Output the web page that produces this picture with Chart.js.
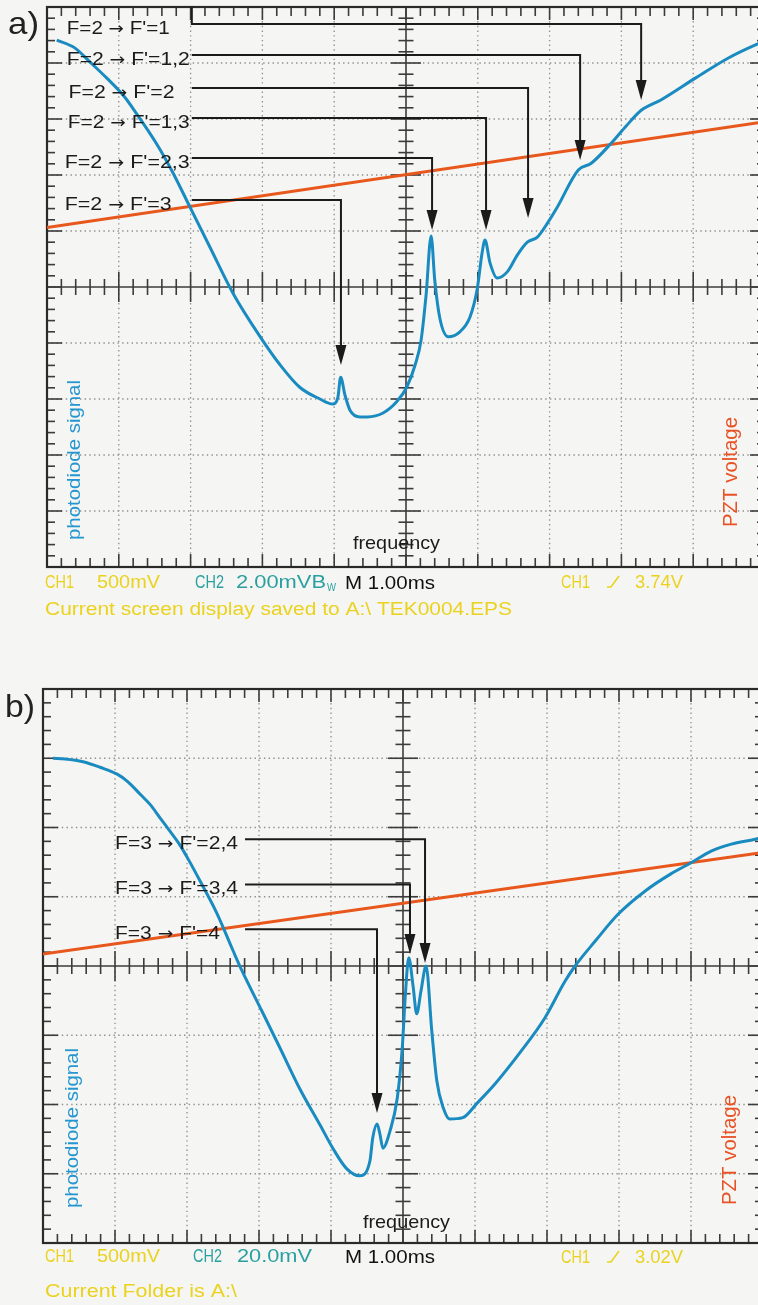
<!DOCTYPE html>
<html>
<head>
<meta charset="utf-8">
<script src="https://cdn.jsdelivr.net/npm/chart.js@4.4.1/dist/chart.umd.min.js"></script>
<style>
  html, body { margin: 0; padding: 0; width: 758px; height: 1305px; overflow: hidden; background: #f5f6f4; }
  .panel { position: absolute; left: 0; }
  #panelA { top: 0; }
  #panelB { top: 630px; }
</style>
</head>
<body>
<div class="panel" id="panelA"><canvas id="scopeA" width="780" height="630"></canvas></div>
<div class="panel" id="panelB"><canvas id="scopeB" width="780" height="675"></canvas></div>
<script>
// ---- Trace (a): F=2 ground state. Horizontal position in divisions (0..10),
// vertical level in divisions from the screen centre.
const sweepA = [0.136, 0.387, 0.596, 0.833, 1.07, 1.25, 1.53, 1.75, 1.99, 2.27, 2.59, 2.97, 3.24, 3.52,
  3.80, 3.98, 4.05, 4.09, 4.15, 4.22, 4.36, 4.46, 4.68, 4.87, 5.01, 5.13, 5.21, 5.28, 5.35, 5.40, 5.47,
  5.59, 5.75, 5.89, 5.99, 6.06, 6.10, 6.17, 6.27, 6.41, 6.55, 6.69, 6.83, 6.97, 7.10, 7.40, 7.58, 7.86,
  8.07, 8.28, 8.55, 9.03, 9.49, 9.86, 10.0];
const photodiodeA = [4.41, 4.27, 4.02, 3.73, 3.41, 3.09, 2.55, 2.05, 1.43, 0.71, -0.11, -0.89, -1.38, -1.79,
  -2.00, -2.09, -1.98, -1.61, -1.93, -2.20, -2.32, -2.32, -2.25, -2.05, -1.79, -1.38, -0.95, -0.14, 0.91, 0.13, -0.55,
  -0.89, -0.80, -0.54, -0.05, 0.61, 0.84, 0.43, 0.16, 0.27, 0.57, 0.80, 0.89, 1.14, 1.41, 2.09, 2.21, 2.57,
  2.88, 3.16, 3.34, 3.73, 4.09, 4.32, 4.39];
const rampSweepA = [0, 10];
const pztA = [1.06, 2.95];
const transitionsA = ["F=2 \u2192 F'=1", "F=2 \u2192 F'=1,2", "F=2 \u2192 F'=2", "F=2 \u2192 F'=1,3", "F=2 \u2192 F'=2,3", "F=2 \u2192 F'=3"];

// ---- Trace (b): F=3 ground state.
const sweepB = [0.139, 0.306, 0.556, 0.792, 1.03, 1.18, 1.35, 1.49, 1.625, 1.76, 1.90, 2.04, 2.18, 2.42, 2.64,
  2.76, 3.04, 3.29, 3.57, 3.85, 4.03, 4.22, 4.40, 4.54, 4.58, 4.64, 4.68, 4.72, 4.82, 4.92, 4.99, 5.03, 5.08,
  5.14, 5.19, 5.25, 5.32, 5.40, 5.47, 5.56, 5.65, 5.83, 6.03, 6.28, 6.64, 6.97, 7.25, 7.39, 7.67, 7.99, 8.36,
  8.72, 9.00, 9.28, 9.56, 9.89, 10.0];
const photodiodeB = [3.00, 2.99, 2.95, 2.87, 2.77, 2.66, 2.48, 2.33, 2.14, 1.95, 1.75, 1.50, 1.23, 0.75, 0.22,
  -0.06, -0.65, -1.18, -1.78, -2.30, -2.64, -2.93, -3.03, -2.82, -2.48, -2.28, -2.43, -2.63, -2.38, -1.91, -1.18, -0.46, 0.12,
  -0.29, -0.69, -0.36, 0.0, -0.94, -1.66, -2.05, -2.21, -2.19, -1.98, -1.70, -1.23, -0.75, -0.22, 0.0, 0.36, 0.75, 1.08,
  1.33, 1.49, 1.66, 1.76, 1.83, 1.86];
const rampSweepB = [0, 10];
const pztB = [0.173, 1.64];
const transitionsB = ["F=3 \u2192 F'=2,4", "F=3 \u2192 F'=3,4", "F=3 \u2192 F'=4"];

const pts = (xs, ys) => xs.map((x, i) => ({ x: x, y: ys[i] }));

// Arrow callouts: label start, row of the leader, target column and arrow tip, in axis units.
const calloutsA = [
  { lx: 0.275, w: 103, row: 4.696, start: 2.017, tx: 8.275, tip: 3.339, stub: true },
  { lx: 0.275, w: 123, row: 4.143, start: 2.017, tx: 7.425, tip: 2.268 },
  { lx: 0.300, w: 106, row: 3.554, start: 2.017, tx: 6.700, tip: 1.232 },
  { lx: 0.289, w: 122, row: 3.018, start: 2.017, tx: 6.115, tip: 1.018 },
  { lx: 0.247, w: 125, row: 2.304, start: 2.017, tx: 5.363, tip: 1.018 },
  { lx: 0.247, w: 107, row: 1.554, start: 2.017, tx: 4.094, tip: -1.393 }
].map((c, i) => Object.assign({ text: transitionsA[i] }, c));
const calloutsB = [
  { lx: 1.0, w: 123, row: 1.830, start: 2.806, tx: 5.306, tip: 0.043 },
  { lx: 1.0, w: 123, row: 1.177, start: 2.806, tx: 5.097, tip: 0.173 },
  { lx: 1.0, w: 105, row: 0.530, start: 2.806, tx: 4.639, tip: -2.123 }
].map((c, i) => Object.assign({ text: transitionsB[i] }, c));

const YELLOW = '#ead21e', TEAL = '#2a9fa0', INK = '#1b1b1b';
const SANS = '"Liberation Sans", Arial, Helvetica, sans-serif';
const ARROWFONT = '"DejaVu Sans", sans-serif';

// Draws a string squeezed/stretched to a given width
function fitText(ctx, text, x, y, w, size, color, rot) {
  ctx.save();
  ctx.font = size + 'px ' + SANS;
  ctx.fillStyle = color;
  const m = ctx.measureText(text).width;
  ctx.translate(x, y);
  if (rot) ctx.rotate(rot);
  ctx.scale(w / m, 1);
  ctx.fillText(text, 0, 0);
  ctx.restore();
}

// Transition label: the arrow is set in DejaVu Sans so it sits at mid-height
function transitionText(ctx, text, x, y, w, size, color) {
  const parts = text.split('\u2192');
  const segs = [
    { s: parts[0], f: size + 'px ' + SANS },
    { s: '\u2192', f: (size - 2) + 'px ' + ARROWFONT },
    { s: parts[1], f: size + 'px ' + SANS }
  ];
  ctx.save();
  ctx.fillStyle = color;
  let total = 0;
  segs.forEach(g => { ctx.font = g.f; g.w = ctx.measureText(g.s).width; total += g.w; });
  ctx.translate(x, y);
  ctx.scale(w / total, 1);
  let cx = 0;
  segs.forEach(g => { ctx.font = g.f; ctx.fillText(g.s, cx, 0); cx += g.w; });
  ctx.restore();
}

function triggerIcon(ctx, x, y, color) {
  ctx.save();
  ctx.strokeStyle = color; ctx.lineWidth = 1.6;
  ctx.beginPath();
  ctx.moveTo(x, y); ctx.lineTo(x + 4, y); ctx.lineTo(x + 12, y - 11);
  ctx.stroke();
  ctx.restore();
}

// Oscilloscope graticule: dotted grid, framed border with ticks, centre cross
const graticule = {
  id: 'graticule',
  beforeDraw(chart) {
    const ctx = chart.ctx;
    ctx.save();
    ctx.fillStyle = '#f5f6f4';
    ctx.fillRect(0, 0, chart.width, chart.height);
    ctx.restore();
  },
  beforeDatasetsDraw(chart) {
    const { ctx, chartArea: a, scales: { x, y } } = chart;
    const seg = (x1, y1, x2, y2) => { ctx.beginPath(); ctx.moveTo(x1, y1); ctx.lineTo(x2, y2); ctx.stroke(); };
    ctx.save();
    ctx.strokeStyle = '#8e8e8e'; ctx.lineWidth = 1.3; ctx.setLineDash([1.4, 3.3]);
    for (let d = 1; d < 10; d++) {
      if (d === 5) continue;
      const px = x.getPixelForValue(d);
      seg(px, a.top, px, a.bottom);
    }
    for (let v = y.min + 1; v < y.max; v++) {
      if (v === 0) continue;
      const py = y.getPixelForValue(v);
      seg(a.left, py, a.right, py);
    }
    ctx.setLineDash([]);
    ctx.strokeStyle = '#3b3b3b'; ctx.lineWidth = 1.6;
    const cx = x.getPixelForValue(5), cy = y.getPixelForValue(0);
    seg(cx, a.top, cx, a.bottom);
    seg(a.left, cy, a.right, cy);
    for (let i = 0; i <= 50; i++) {
      const px = x.getPixelForValue(i / 5), major = i % 5 === 0;
      const edge = major ? 13 : 9, mid = major ? 15 : 8;
      seg(px, a.top, px, a.top + edge);
      seg(px, a.bottom, px, a.bottom - edge);
      seg(px, cy - mid, px, cy + mid);
    }
    const nRows = (y.max - y.min) * 5;
    for (let i = 0; i <= nRows; i++) {
      const py = y.getPixelForValue(y.min + i / 5), major = i % 5 === 0;
      const edge = major ? 15 : 8, mid = major ? 15 : 7.5;
      seg(a.left, py, a.left + edge, py);
      seg(a.right, py, a.right - edge, py);
      seg(cx - mid, py, cx + mid, py);
    }
    ctx.strokeStyle = '#2a2a2a'; ctx.lineWidth = 2.2;
    ctx.strokeRect(a.left, a.top, a.right - a.left, a.bottom - a.top);
    ctx.restore();
  }
};

// Labelled leader lines with arrowheads pointing at the resonances
const callouts = {
  id: 'callouts',
  afterDatasetsDraw(chart, args, opts) {
    const { ctx, scales: { x, y } } = chart;
    ctx.save();
    (opts.items || []).forEach(c => {
      const rowY = y.getPixelForValue(c.row);
      const sx = x.getPixelForValue(c.start), tx = x.getPixelForValue(c.tx), tipY = y.getPixelForValue(c.tip);
      transitionText(ctx, c.text, x.getPixelForValue(c.lx), rowY + 9.8, c.w, 18, INK);
      ctx.strokeStyle = INK; ctx.lineWidth = 2; ctx.lineJoin = 'miter';
      ctx.beginPath();
      if (c.stub) { ctx.moveTo(sx, y.getPixelForValue(y.max)); ctx.lineTo(sx, rowY); }
      else ctx.moveTo(sx, rowY);
      ctx.lineTo(tx, rowY);
      ctx.lineTo(tx, tipY - 18);
      ctx.stroke();
      ctx.fillStyle = INK;
      ctx.beginPath();
      ctx.moveTo(tx - 5.5, tipY - 20);
      ctx.lineTo(tx + 5.5, tipY - 20);
      ctx.lineTo(tx, tipY);
      ctx.closePath();
      ctx.fill();
    });
    ctx.restore();
  }
};

// Screen captions, channel readouts and status line
const captions = {
  id: 'captions',
  afterDraw(chart, args, opts) {
    const ctx = chart.ctx;
    ctx.save();
    (opts.items || []).forEach(t => {
      if (t.icon) { triggerIcon(ctx, t.x, t.y, t.color); return; }
      ctx.textBaseline = t.baseline || 'alphabetic';
      fitText(ctx, t.text, t.x, t.y, t.w, t.size, t.color, t.rot);
    });
    ctx.restore();
  }
};

function makeScope(canvasId, sweep, signal, rampX, ramp, yHalf, padding, items, texts) {
  return new Chart(document.getElementById(canvasId), {
    type: 'line',
    data: {
      datasets: [
        { label: 'photodiode signal', data: pts(sweep, signal), borderColor: '#1a8bc0', borderWidth: 3,
          pointRadius: 0, cubicInterpolationMode: 'monotone', fill: false },
        { label: 'PZT voltage', data: pts(rampX, ramp), borderColor: '#e8571c', borderWidth: 3,
          pointRadius: 0, tension: 0, fill: false }
      ]
    },
    options: {
      responsive: false,
      animation: false,
      devicePixelRatio: 1,
      events: [],
      layout: { padding: padding },
      scales: {
        x: { type: 'linear', min: 0, max: 10, display: false },
        y: { type: 'linear', min: -yHalf, max: yHalf, display: false }
      },
      plugins: {
        legend: { display: false },
        tooltip: { enabled: false },
        callouts: { items: items },
        captions: { items: texts }
      }
    },
    plugins: [graticule, callouts, captions]
  });
}

const R = -Math.PI / 2;
makeScope('scopeA', sweepA, photodiodeA, rampSweepA, pztA, 5,
  { left: 47, right: 15, top: 7, bottom: 63 }, calloutsA, [
    { text: 'a)', x: 8, y: 34, w: 31, size: 32, color: '#222' },
    { text: 'photodiode signal', x: 75, y: 540, w: 160, size: 19, color: '#2596cf', rot: R, baseline: 'middle' },
    { text: 'PZT voltage', x: 731, y: 527, w: 110, size: 20, color: '#e85326', rot: R, baseline: 'middle' },
    { text: 'frequency', x: 353, y: 549, w: 87, size: 19, color: INK },
    { text: 'CH1', x: 45, y: 588, w: 29, size: 18, color: YELLOW },
    { text: '500mV', x: 97, y: 588, w: 63, size: 18, color: YELLOW },
    { text: 'CH2', x: 195, y: 588, w: 29, size: 18, color: TEAL },
    { text: '2.00mVB', x: 236, y: 588, w: 90, size: 18, color: TEAL },
    { text: 'W', x: 327, y: 591, w: 9, size: 10, color: TEAL },
    { text: 'M 1.00ms', x: 345, y: 589, w: 90, size: 18, color: '#111' },
    { text: 'CH1', x: 561, y: 588, w: 29, size: 18, color: YELLOW },
    { icon: true, x: 607, y: 587, color: YELLOW },
    { text: '3.74V', x: 635, y: 588, w: 48, size: 18, color: YELLOW },
    { text: 'Current screen display saved to A:\\ TEK0004.EPS', x: 45, y: 615, w: 467, size: 18, color: YELLOW }
  ]);

makeScope('scopeB', sweepB, photodiodeB, rampSweepB, pztB, 4,
  { left: 43, right: 17, top: 59, bottom: 62 }, calloutsB, [
    { text: 'b)', x: 5, y: 87, w: 30, size: 32, color: '#222' },
    { text: 'photodiode signal', x: 73, y: 578, w: 160, size: 19, color: '#2596cf', rot: R, baseline: 'middle' },
    { text: 'PZT voltage', x: 730, y: 575, w: 110, size: 20, color: '#e85326', rot: R, baseline: 'middle' },
    { text: 'frequency', x: 363, y: 598, w: 87, size: 19, color: INK },
    { text: 'CH1', x: 45, y: 632, w: 29, size: 18, color: YELLOW },
    { text: '500mV', x: 97, y: 632, w: 63, size: 18, color: YELLOW },
    { text: 'CH2', x: 193, y: 632, w: 29, size: 18, color: TEAL },
    { text: '20.0mV', x: 237, y: 632, w: 75, size: 18, color: TEAL },
    { text: 'M 1.00ms', x: 345, y: 633, w: 90, size: 18, color: '#111' },
    { text: 'CH1', x: 561, y: 633, w: 29, size: 18, color: YELLOW },
    { icon: true, x: 607, y: 632, color: YELLOW },
    { text: '3.02V', x: 635, y: 633, w: 48, size: 18, color: YELLOW },
    { text: 'Current Folder is A:\\', x: 45, y: 667, w: 192, size: 18, color: YELLOW }
  ]);
</script>
</body>
</html>
